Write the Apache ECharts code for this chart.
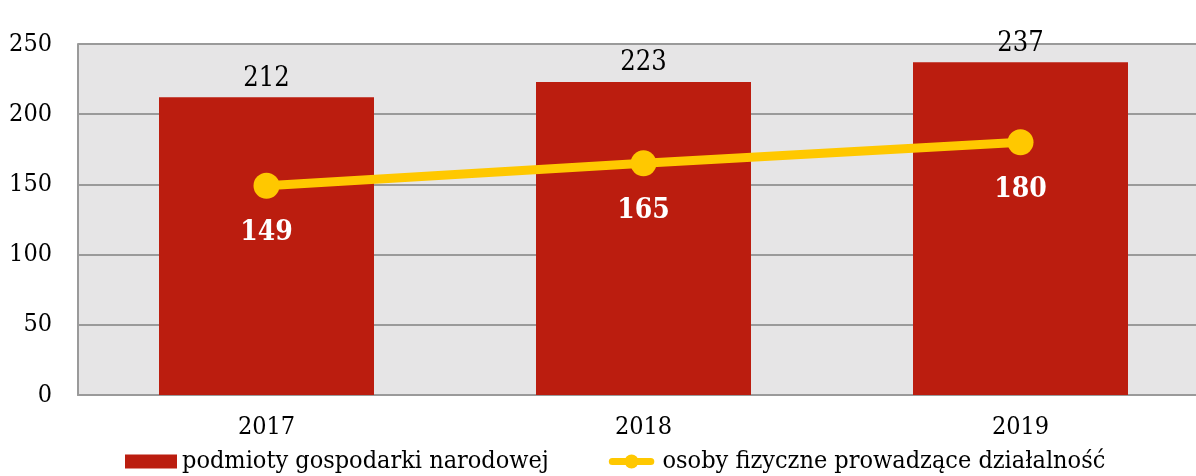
<!DOCTYPE html>
<html lang="pl">
<head>
    <meta charset="UTF-8">
    <title>Podmioty</title>
    <script src="https://cdn.jsdelivr.net/npm/echarts@6/dist/echarts.min.js"></script>
    <style>
        html, body { margin: 0; padding: 0; background: #fff; overflow: hidden; }
    </style>
</head>
<body>
<!-- wykres jest szerszy niż okno: prawa krawędź obszaru wykresu jest ucięta jak w oryginale -->
<div id="main" style="width: 1209px;height:476px;"></div>
<script>
    // dane
    var years = ['2017', '2018', '2019'];
    var podmioty = [212, 223, 237];
    var osoby = [149, 165, 180];
    var yTicks = [0, 50, 100, 150, 200, 250];

    var font = '"DejaVu Serif Condensed", "DejaVu Serif", serif';

    // ikona legendy: gruba linia z kółkiem
    var lineIcon = 'path://M4,4 L22,4 L22,12 L4,12 A4,4 0 0,1 4,4 Z ' +
        'M30,4 L48,4 A4,4 0 0,1 48,12 L30,12 Z ' +
        'M18,8 A8,8 0 1,1 34,8 A8,8 0 1,1 18,8 Z';

    var myChart = echarts.init(document.getElementById('main'));

    var option = {
        animation: false,
        textStyle: { fontFamily: font },
        grid: {
            left: 78,
            right: 0,
            top: 44,
            bottom: 81,
            show: true,
            backgroundColor: '#e6e5e6',
            borderWidth: 0
        },
        legend: {
            left: 125,
            bottom: 2,
            padding: 0,
            itemWidth: 52,
            itemHeight: 14,
            itemGap: 60,
            textStyle: { fontFamily: font, fontSize: 25, color: '#000' },
            data: [
                { name: 'podmioty gospodarki narodowej', icon: 'rect' },
                { name: 'osoby fizyczne prowadzące działalność', icon: lineIcon }
            ]
        },
        xAxis: {
            type: 'category',
            data: years,
            axisLine: { lineStyle: { color: '#9a9a9a', width: 2 } },
            axisTick: { show: false },
            axisLabel: { fontFamily: font, fontSize: 25, color: '#000', margin: 20 }
        },
        yAxis: {
            type: 'value',
            min: yTicks[0],
            max: yTicks[yTicks.length - 1],
            interval: 50,
            axisLine: { show: true, lineStyle: { color: '#9a9a9a', width: 2 } },
            axisTick: { show: false },
            splitLine: { lineStyle: { color: '#9a9a9a', width: 2 } },
            axisLabel: { fontFamily: font, fontSize: 25, color: '#000', margin: 26 }
        },
        series: [
            {
                name: 'podmioty gospodarki narodowej',
                type: 'bar',
                data: podmioty,
                barWidth: 215,
                itemStyle: { color: '#bb1d0f' },
                label: {
                    show: true,
                    position: 'top',
                    distance: 5,
                    fontFamily: font,
                    fontSize: 27,
                    color: '#000'
                }
            },
            {
                name: 'osoby fizyczne prowadzące działalność',
                type: 'line',
                data: osoby,
                symbol: 'circle',
                symbolSize: 26,
                lineStyle: { color: '#ffc800', width: 9 },
                itemStyle: { color: '#ffc800' },
                label: {
                    show: true,
                    position: 'bottom',
                    distance: 20,
                    fontFamily: font,
                    fontSize: 28,
                    fontWeight: 'bold',
                    color: '#fff'
                }
            }
        ]
    };

    myChart.setOption(option);
</script>
</body>
</html>
